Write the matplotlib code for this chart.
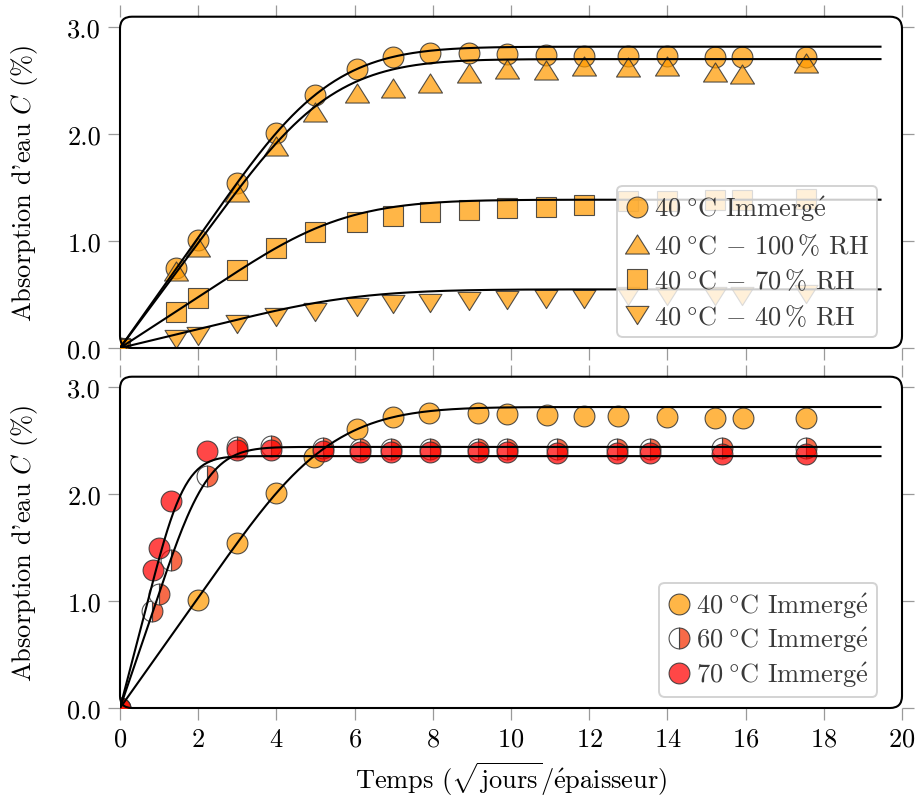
import numpy as np
import matplotlib
matplotlib.use("Agg")
import matplotlib.pyplot as plt
from matplotlib.patches import FancyBboxPatch
from matplotlib.path import Path

plt.rcParams['font.family'] = ['cmr10', 'DejaVu Serif']
plt.rcParams['mathtext.fontset'] = 'cm'
plt.rcParams['axes.unicode_minus'] = False
plt.rcParams['axes.formatter.use_mathtext'] = True

# ---------------- data ----------------
# top panel (40 °C, various conditions)
x_top = [0, 1.43, 1.99, 2.98, 3.99, 4.99, 6.07, 6.99, 7.93, 8.93, 9.89, 10.90,
         11.87, 12.98, 13.99, 15.23, 15.92, 17.54]
c_top_imm40 = [0, 0.745, 1.006, 1.54, 2.01, 2.36, 2.61, 2.72, 2.76, 2.76, 2.75,
               2.74, 2.73, 2.73, 2.73, 2.72, 2.72, 2.72]
c_top_rh100 = [0, 0.72, 0.94, 1.46, 1.89, 2.21, 2.38, 2.43, 2.48, 2.57, 2.61,
               2.60, 2.64, 2.63, 2.64, 2.58, 2.56, 2.66]
c_top_rh70 = [0, 0.34, 0.47, 0.73, 0.935, 1.08, 1.18, 1.23, 1.27, 1.29, 1.31,
              1.32, 1.34, 1.37, 1.37, 1.38, 1.38, 1.39]
c_top_rh40 = [0, 0.084, 0.115, 0.22, 0.29, 0.34, 0.385, 0.41, 0.42, 0.44, 0.45,
              0.46, 0.46, 0.49, 0.49, 0.49, 0.49, 0.505]

# bottom panel (immersion, various temperatures)
x_bot_imm40 = [0, 2.0, 2.98, 3.99, 4.96, 6.07, 6.99, 7.91, 9.15, 9.89, 10.91,
               11.87, 12.74, 13.98, 15.22, 15.93, 17.54]
c_bot_imm40 = [0, 1.01, 1.54, 2.01, 2.35, 2.61, 2.72, 2.76, 2.76, 2.75, 2.74,
               2.73, 2.73, 2.72, 2.71, 2.71, 2.71]
x_bot_imm60 = [0, 0.81, 1.00, 1.30, 2.22, 2.98, 3.86, 5.18, 6.15, 6.92, 7.93,
               9.15, 9.89, 11.17, 12.70, 13.55, 15.39, 17.54]
c_bot_imm60 = [0, 0.91, 1.07, 1.38, 2.17, 2.44, 2.45, 2.43, 2.42, 2.42, 2.42,
               2.42, 2.42, 2.42, 2.42, 2.42, 2.43, 2.43]
x_bot_imm70 = [0, 0.84, 1.00, 1.30, 2.22, 2.98, 3.86, 5.18, 6.15, 6.92, 7.93,
               9.15, 9.89, 11.17, 12.70, 13.55, 15.39, 17.54]
c_bot_imm70 = [0, 1.29, 1.50, 1.93, 2.40, 2.41, 2.41, 2.40, 2.39, 2.39, 2.39,
               2.39, 2.39, 2.38, 2.38, 2.38, 2.37, 2.37]

# Fick model parameters (saturation C_inf, diffusivity D) for fit curves
top_fit_cinf = [2.816, 2.70, 1.386, 0.548]
top_fit_D = [0.0066, 0.0065, 0.0058, 0.0051]
bot_fit_cinf = [2.813, 2.44, 2.354]
bot_fit_D = [0.0066, 0.038, 0.070]
fit_xmax = 19.45

E_ACUTE = r'$\mathrm{\acute{e}}$'
DEG = r'$\;\degree$'
DASH = r' $-$ '
top_labels = ['40' + DEG + 'C Immerg' + E_ACUTE,
              '40' + DEG + 'C' + DASH + '100$\\,$% RH',
              '40' + DEG + 'C' + DASH + '70$\\,$% RH',
              '40' + DEG + 'C' + DASH + '40$\\,$% RH']
bot_labels = ['40' + DEG + 'C Immerg' + E_ACUTE,
              '60' + DEG + 'C Immerg' + E_ACUTE,
              '70' + DEG + 'C Immerg' + E_ACUTE]
y_label = "Absorption d'eau $C$ (%)"
x_label = 'Temps ($\\sqrt{\\mathrm{jours}}$/' + E_ACUTE + 'paisseur)'

xticks = [0, 2, 4, 6, 8, 10, 12, 14, 16, 18, 20]
yticks = [0.0, 1.0, 2.0, 3.0]
ytick_labels = ['0.0', '1.0', '2.0', '3.0']


def fick(x, cinf, D, nterms=600):
    x = np.asarray(x)
    k = (2 * np.arange(nterms) + 1)[:, None]
    s = np.sum(np.exp(-D * k**2 * np.pi**2 * x[None, :]**2) / k**2, axis=0)
    return cinf * (1 - 8 / np.pi**2 * s)


# ---------------- styles ----------------
orange = (1.0, 0.604, 0.0, 0.72)
red = (1.0, 0.0, 0.0, 0.72)
tomato = (0.965, 0.27, 0.10, 0.8)
white_a = (1, 1, 1, 0.8)
edge = (0.2, 0.2, 0.2, 0.85)

tri_up = Path([(0, 0.5), (-0.63, -0.5), (0.63, -0.5), (0, 0.5)],
              [Path.MOVETO, Path.LINETO, Path.LINETO, Path.CLOSEPOLY])
tri_dn = Path([(0, -0.5), (-0.63, 0.5), (0.63, 0.5), (0, -0.5)],
              [Path.MOVETO, Path.LINETO, Path.LINETO, Path.CLOSEPOLY])

FS = 19

fig = plt.figure(figsize=(9.2, 8.04), dpi=100)
W, H = 920, 804
left, right = 120 / W, 902 / W
ax1 = fig.add_axes([left, 1 - 349 / H, right - left, (349 - 17.7) / H])
ax2 = fig.add_axes([left, 1 - 709 / H, right - left, (709 - 377.7) / H])

xfit = np.linspace(0, fit_xmax, 500)

# top panel
ms_kw = dict(linestyle='none', markeredgecolor=edge, markeredgewidth=0.8)
ax1.plot(x_top, c_top_imm40, marker='o', ms=15, markerfacecolor=orange,
         label=top_labels[0], **ms_kw)
ax1.plot(x_top, c_top_rh100, marker=tri_up, ms=17.3, markerfacecolor=orange,
         label=top_labels[1], **ms_kw)
ax1.plot(x_top, c_top_rh70, marker='s', ms=14.4, markerfacecolor=orange,
         label=top_labels[2], **ms_kw)
ax1.plot(x_top, c_top_rh40, marker=tri_dn, ms=16.5, markerfacecolor=orange,
         label=top_labels[3], **ms_kw)
for cinf, D in zip(top_fit_cinf, top_fit_D):
    ax1.plot(xfit, fick(xfit, cinf, D), color='black', lw=1.5, zorder=5)

# bottom panel
ax2.plot(x_bot_imm40, c_bot_imm40, marker='o', ms=15, markerfacecolor=orange,
         label=bot_labels[0], **ms_kw)
ax2.plot(x_bot_imm60, c_bot_imm60, marker='o', ms=15, markerfacecolor=tomato,
         fillstyle='right', markerfacecoloralt=white_a,
         label=bot_labels[1], **ms_kw)
ax2.plot(x_bot_imm70, c_bot_imm70, marker='o', ms=15, markerfacecolor=red,
         label=bot_labels[2], **ms_kw)
for cinf, D in zip(bot_fit_cinf, bot_fit_D):
    ax2.plot(xfit, fick(xfit, cinf, D), color='black', lw=1.5, zorder=5)

for ax, lsp in ((ax1, 0.36), (ax2, 0.19)):
    ax.set_xlim(0, 20)
    ax.set_ylim(0, (349 - 17.7) / 107.0)
    ax.set_xticks(xticks)
    ax.set_yticks(yticks)
    ax.set_yticklabels(ytick_labels)
    for sp in ax.spines.values():
        sp.set_visible(False)
    ax.tick_params(direction='out', length=8.6, width=0.9, color='#9a9a9a',
                   top=True, right=True, labelsize=FS, pad=5)
    ax.set_ylabel(y_label, fontsize=FS, labelpad=20)
    leg = ax.legend(loc='lower right', bbox_to_anchor=(0.9684, 0.034),
                    borderaxespad=0, fontsize=FS, frameon=True, fancybox=True,
                    framealpha=0.8, edgecolor='#c8c8c8', handlelength=0.9,
                    handletextpad=0.2, labelspacing=lsp, borderpad=0.3,
                    labelcolor='#3a3a3a')
    leg.get_frame().set_linewidth(1.4)
    leg.set_zorder(10)
    # rounded frame
    pos = ax.get_position()
    frame = FancyBboxPatch((pos.x0, pos.y0), pos.width, pos.height,
                           boxstyle='round,pad=0,rounding_size=0.013',
                           mutation_aspect=W / H, transform=fig.transFigure,
                           facecolor='none', edgecolor='black', lw=1.5,
                           zorder=6)
    fig.add_artist(frame)

ax1.tick_params(labelbottom=False)
ax2.set_xlabel(x_label, fontsize=FS, labelpad=6)

fig.savefig('out.png', dpi=100)
